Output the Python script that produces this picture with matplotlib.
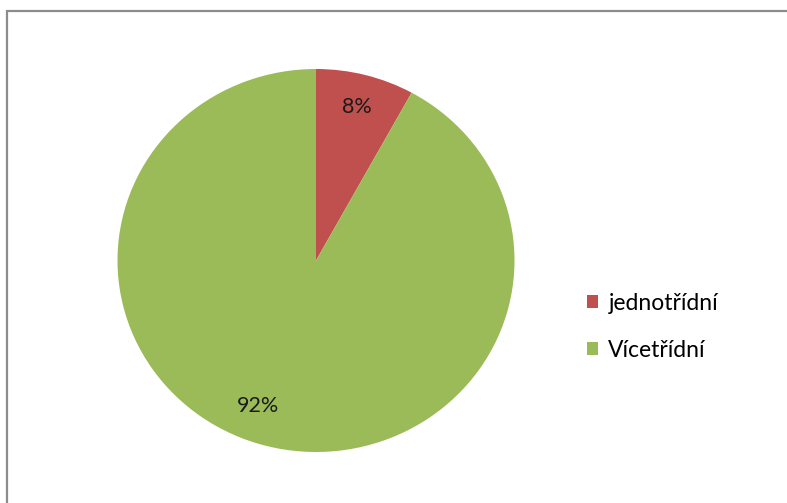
import matplotlib.pyplot as plt
from matplotlib.patches import Rectangle

# =========== data =========
labels = ['jednotřídní', 'Vícetřídní']
shares = [8, 92]
colors = ['#C0504D', '#9BBB59']
# ==========================

plt.rcParams['font.family'] = ['Lato', 'DejaVu Sans']

W, H = 787, 503
fig = plt.figure(figsize=(W/100, H/100), dpi=100)

# chart frame (right and bottom sides run off the image)
fig.patches.append(Rectangle((7/W, -0.05), 1.0, (H - 11)/H + 0.05,
                             transform=fig.transFigure, fill=False,
                             edgecolor='#8c8c8c', lw=1.6))

# pie axes, slightly wider than tall
cx, cy, rx, ry = 316, 260.5, 198.5, 191.5
ax = fig.add_axes([(cx - rx)/W, (H - cy - ry)/H, 2*rx/W, 2*ry/H])
wedges, texts, autotexts = ax.pie(shares, colors=colors, startangle=90,
                                  counterclock=False, radius=1.0,
                                  autopct='%1.0f%%', pctdistance=0.83,
                                  textprops={'fontsize': 15.5, 'color': '#1a1a1a'})
# big slice label sits a bit off its bisector
autotexts[1].set_position((-0.29, -0.76))
ax.set_xlim(-1, 1)
ax.set_ylim(-1, 1)
ax.set_aspect('auto')
ax.axis('off')

leg = fig.legend(wedges, labels, loc='upper left',
                 bbox_to_anchor=(566/W, 1 - 272/H), frameon=False,
                 fontsize=16.5, handlelength=0.5, handleheight=0.5,
                 handletextpad=0.45, labelspacing=1.15)

fig.savefig('out.png', dpi=100)
